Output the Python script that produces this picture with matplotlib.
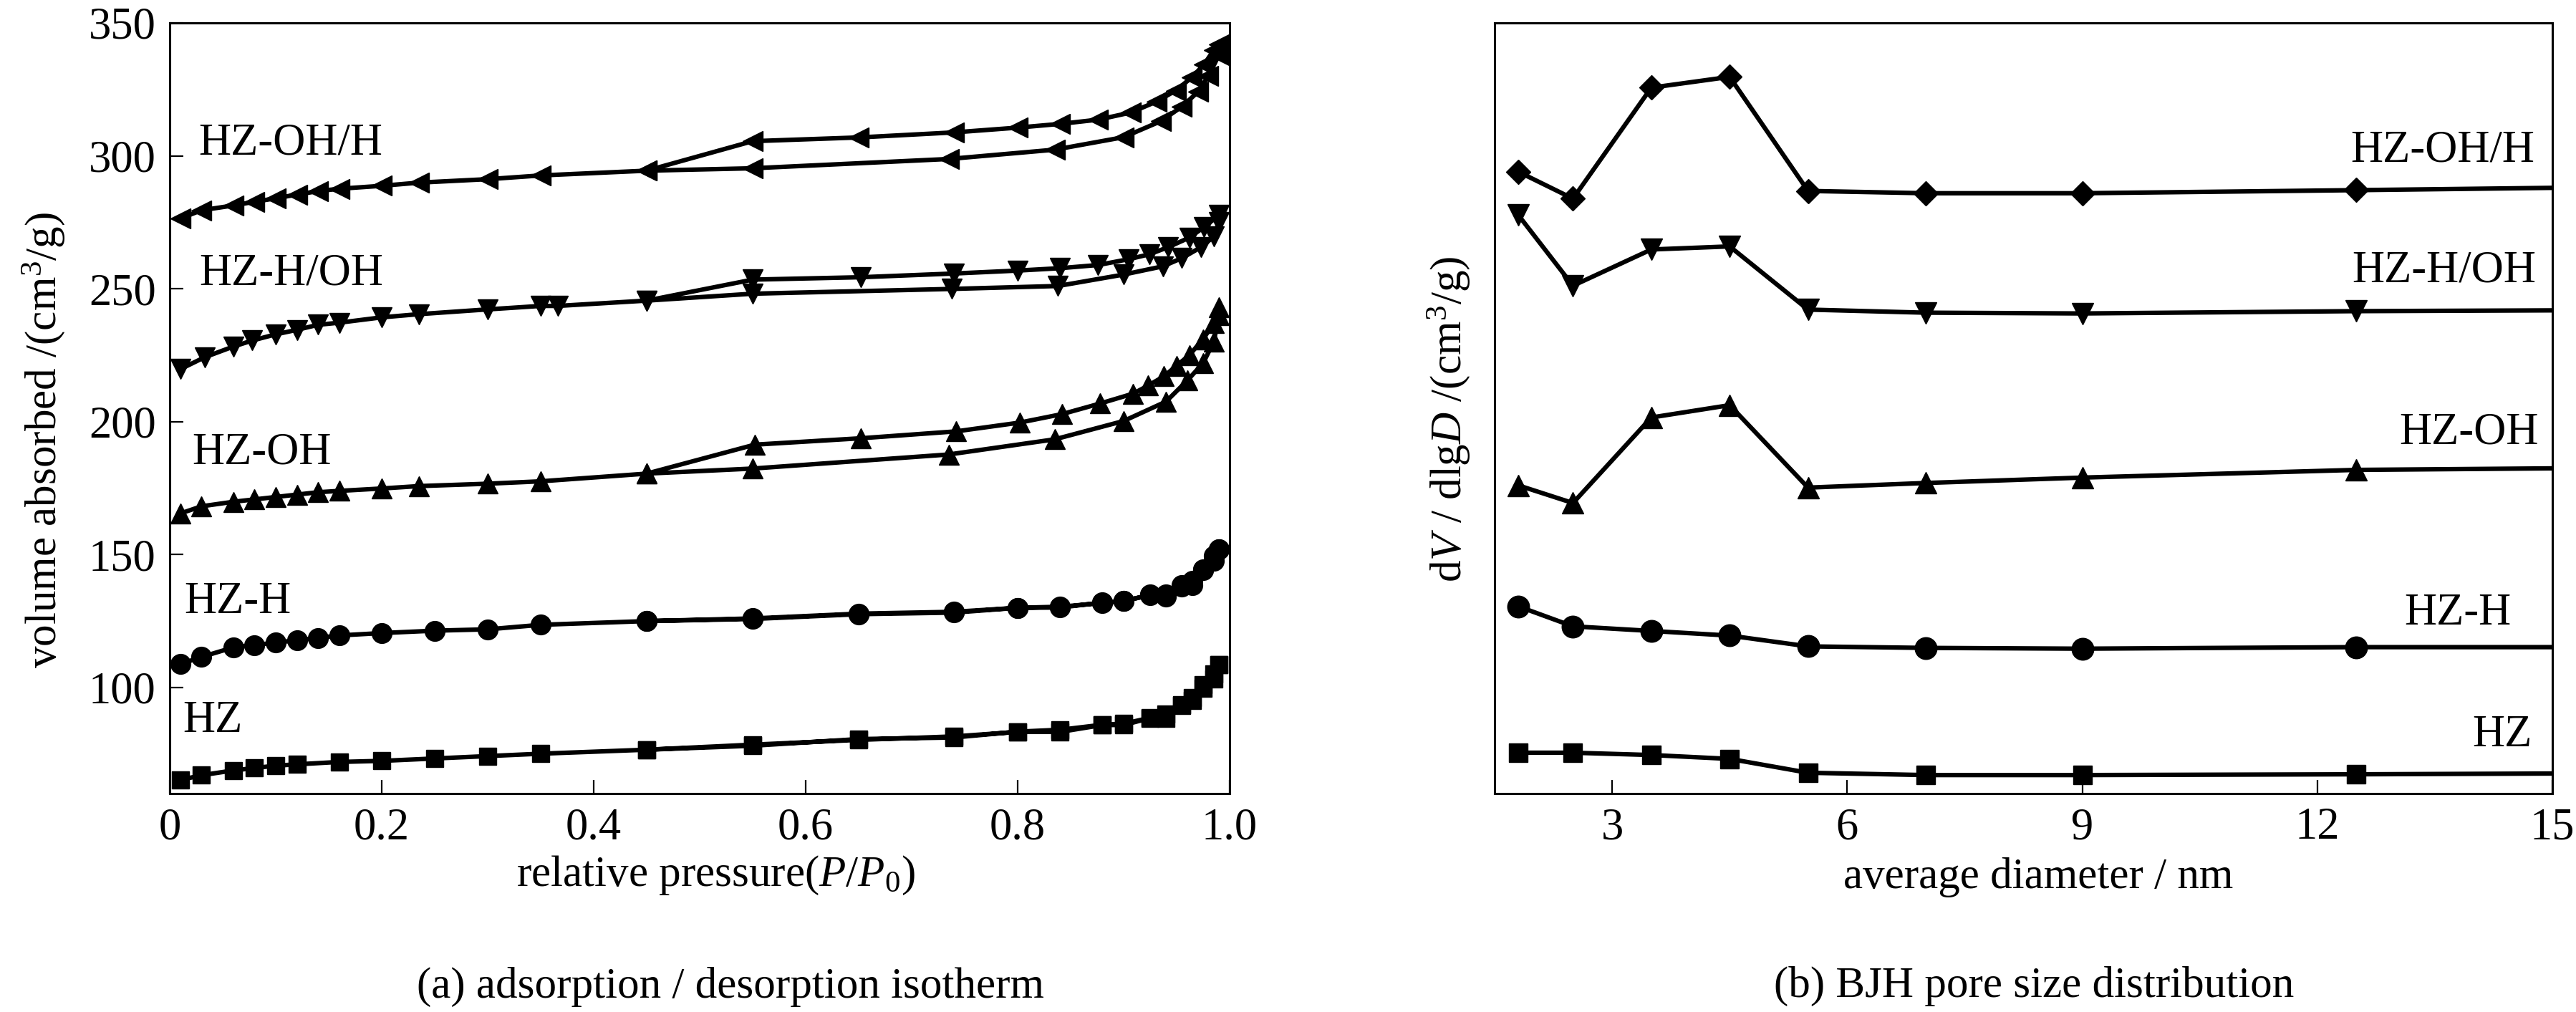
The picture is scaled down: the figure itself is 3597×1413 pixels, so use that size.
import matplotlib
matplotlib.use("Agg")
import matplotlib.pyplot as plt

plt.rcParams['font.family'] = ['Liberation Serif', 'DejaVu Serif']
plt.rcParams['mathtext.fontset'] = 'custom'
plt.rcParams['mathtext.rm'] = 'Liberation Serif'
plt.rcParams['mathtext.it'] = 'Liberation Serif:italic'

# ---- (a) adsorption / desorption isotherms ----
hz_ads_p = [0.01, 0.03, 0.06, 0.08, 0.10, 0.12, 0.16, 0.20, 0.25, 0.30, 0.35, 0.45, 0.55,
            0.65, 0.74, 0.80, 0.84, 0.88, 0.90, 0.925, 0.94, 0.955, 0.965, 0.975, 0.985, 0.99]
hz_ads_v = [65.1, 66.9, 68.7, 69.6, 70.5, 71.0, 71.9, 72.3, 73.2, 74.1, 75.0, 76.5, 78.0,
            80.5, 81.1, 83.3, 84.0, 85.9, 86.3, 88.5, 90.0, 93.5, 95.0, 99.5, 103.0, 108.5]
hz_des_p = [0.99, 0.985, 0.975, 0.965, 0.955, 0.94, 0.925, 0.90, 0.88, 0.84, 0.80, 0.74, 0.65, 0.55, 0.45]
hz_des_v = [108.5, 105.0, 101.0, 96.0, 93.1, 88.2, 88.4, 85.8, 85.8, 83.2, 83.2, 81.5, 80.2, 78.4, 76.5]

hzh_ads_p = [0.01, 0.03, 0.06, 0.08, 0.10, 0.12, 0.14, 0.16, 0.20, 0.25, 0.30, 0.35, 0.45, 0.55,
             0.65, 0.74, 0.80, 0.84, 0.88, 0.90, 0.925, 0.94, 0.955, 0.965, 0.975, 0.985, 0.99]
hzh_ads_v = [108.7, 111.4, 115.0, 115.9, 116.8, 117.7, 118.6, 119.5, 120.4, 121.3, 121.8, 123.5, 124.9, 125.7,
             127.5, 128.1, 129.9, 130.3, 131.7, 132.4, 134.8, 135.0, 137.8, 138.5, 144.0, 147.5, 152.0]
hzh_des_p = [0.99, 0.985, 0.975, 0.965, 0.955, 0.94, 0.925, 0.90, 0.88, 0.84, 0.80, 0.74, 0.65, 0.55, 0.45]
hzh_des_v = [152.0, 149.5, 144.3, 140.0, 138.3, 134.2, 134.6, 132.5, 131.9, 130.0, 129.9, 128.4, 127.7, 125.9, 124.9]

hzoh_ads_p = [0.01, 0.03, 0.06, 0.08, 0.10, 0.12, 0.14, 0.16, 0.20, 0.235, 0.30, 0.35, 0.45, 0.55,
              0.735, 0.835, 0.90, 0.94, 0.96, 0.975, 0.985, 0.99]
hzoh_ads_v = [165.4, 168.1, 169.8, 170.7, 171.6, 172.5, 173.4, 173.9, 174.8, 175.7, 176.6, 177.5, 180.4, 182.3,
              187.6, 193.3, 200.2, 207.5, 215.4, 222.0, 230.0, 240.0]
hzoh_des_p = [0.99, 0.985, 0.975, 0.962, 0.95, 0.938, 0.923, 0.909, 0.878, 0.842, 0.802, 0.742, 0.652, 0.552, 0.45]
hzoh_des_v = [243.0, 237.0, 231.0, 225.0, 221.0, 217.0, 213.5, 210.5, 206.8, 202.8, 199.6, 196.3, 193.7, 191.3, 180.4]

hzhoh_ads_p = [0.01, 0.033, 0.06, 0.078, 0.10, 0.12, 0.14, 0.16, 0.20, 0.235, 0.30, 0.35, 0.366, 0.45, 0.55,
               0.738, 0.838, 0.90, 0.937, 0.955, 0.973, 0.985, 0.99]
hzhoh_ads_v = [219.7, 224.2, 228.2, 230.5, 232.8, 234.5, 236.4, 237.2, 239.2, 240.4, 242.2, 243.5, 243.5, 245.5, 248.1,
               249.9, 251.0, 255.3, 258.4, 261.5, 265.6, 269.6, 275.0]
hzhoh_des_p = [0.99, 0.976, 0.962, 0.942, 0.924, 0.905, 0.876, 0.84, 0.80, 0.74, 0.652, 0.55, 0.45]
hzhoh_des_v = [277.7, 273.2, 269.2, 265.6, 262.9, 261.1, 258.9, 257.7, 256.8, 255.7, 254.3, 253.4, 245.5]

hzohh_ads_p = [0.01, 0.03, 0.06, 0.08, 0.10, 0.12, 0.14, 0.16, 0.20, 0.235, 0.30, 0.35, 0.45, 0.55,
               0.735, 0.835, 0.90, 0.935, 0.955, 0.97, 0.98, 0.99]
hzohh_ads_v = [276.4, 279.5, 281.3, 282.7, 284.0, 285.4, 286.7, 287.6, 288.7, 289.9, 291.2, 292.6, 294.4, 295.3,
               298.8, 302.3, 307.0, 313.0, 318.5, 324.0, 330.0, 338.0]
hzohh_des_p = [0.99, 0.985, 0.976, 0.964, 0.949, 0.931, 0.907, 0.876, 0.84, 0.80, 0.74, 0.65, 0.55, 0.45]
hzohh_des_v = [342.0, 339.8, 334.4, 329.4, 324.5, 320.4, 316.3, 313.6, 312.0, 310.6, 308.8, 306.9, 305.5, 294.4]

# ---- (b) BJH pore size distribution (arbitrary offset units) ----
diam = [1.8, 2.5, 3.5, 4.5, 5.5, 7.0, 9.0, 12.5, 15.0]
bjh_hzohh = [80.7, 77.2, 91.6, 93.0, 78.2, 77.9, 77.9, 78.3, 78.6]
bjh_hzhoh = [75.1, 65.9, 70.6, 71.0, 62.8, 62.4, 62.3, 62.6, 62.7]
bjh_hzoh = [40.0, 37.7, 48.8, 50.4, 39.7, 40.3, 41.0, 42.0, 42.2]
bjh_hzh = [24.3, 21.7, 21.1, 20.5, 19.1, 18.9, 18.8, 19.0, 19.0]
bjh_hz = [5.3, 5.3, 5.0, 4.5, 2.7, 2.4, 2.4, 2.5, 2.6]

fig = plt.figure(figsize=(35.98, 14.13), dpi=100)
W, H = 3598.0, 1413.0
ax1 = fig.add_axes([237 / W, (H - 1108) / H, 1480 / W, 1076 / H])
ax2 = fig.add_axes([2087 / W, (H - 1108) / H, 1477 / W, 1076 / H])

lw = 4.5
iso = [
    (hz_ads_p, hz_ads_v, hz_des_p, hz_des_v, 's', 17),
    (hzh_ads_p, hzh_ads_v, hzh_des_p, hzh_des_v, 'o', 20),
    (hzoh_ads_p, hzoh_ads_v, hzoh_des_p, hzoh_des_v, '^', 20),
    (hzhoh_ads_p, hzhoh_ads_v, hzhoh_des_p, hzhoh_des_v, 'v', 20),
    (hzohh_ads_p, hzohh_ads_v, hzohh_des_p, hzohh_des_v, '<', 20),
]
for ap, av, dp, dv, m, ms in iso:
    ax1.plot(ap + dp, av + dv, color='black', lw=lw, marker=m, ms=ms,
             mfc='black', mec='black', mew=1)

ax1.set_xlim(0, 1.0)
ax1.set_ylim(60, 350)
ax1.set_xticks([0, 0.2, 0.4, 0.6, 0.8, 1.0])
ax1.set_xticklabels(['0', '0.2', '0.4', '0.6', '0.8', '1.0'])
ax1.set_yticks([100, 150, 200, 250, 300, 350])

ax1.text(0.027, 300.6, 'HZ-OH/H', fontsize=45, va='baseline')
ax1.text(0.028, 251.5, 'HZ-H/OH', fontsize=45, va='baseline')
ax1.text(0.021, 184.1, 'HZ-OH', fontsize=45, va='baseline')
ax1.text(0.014, 127.8, 'HZ-H', fontsize=45, va='baseline')
ax1.text(0.012, 83.1, 'HZ', fontsize=45, va='baseline')

ax1.set_xlabel('relative pressure($P$/$P_0$)', fontsize=44, va='baseline')
ax1.xaxis.set_label_coords(0.515, -0.12)
ax1.set_ylabel('volume absorbed /(cm$^3$/g)', fontsize=44, va='center')
ax1.yaxis.set_label_coords(-0.119, 0.459)

bjh = [
    (bjh_hz, 's', 19),
    (bjh_hzh, 'o', 22),
    (bjh_hzoh, '^', 22),
    (bjh_hzhoh, 'v', 22),
    (bjh_hzohh, 'D', 17),
]
for vals, m, ms in bjh:
    ax2.plot(diam, vals, color='black', lw=lw, marker=m, ms=ms,
             mfc='black', mec='black', mew=1, markevery=list(range(len(diam) - 1)))

ax2.set_xlim(1.5, 15)
ax2.set_ylim(0, 100)
ax2.set_xticks([3, 6, 9, 12, 15])
ax2.set_yticks([])

ax2.text(14.77, 82.0, 'HZ-OH/H', fontsize=45, va='baseline', ha='right')
ax2.text(14.79, 66.4, 'HZ-H/OH', fontsize=45, va='baseline', ha='right')
ax2.text(14.82, 45.4, 'HZ-OH', fontsize=45, va='baseline', ha='right')
ax2.text(14.47, 21.9, 'HZ-H', fontsize=45, va='baseline', ha='right')
ax2.text(14.74, 6.1, 'HZ', fontsize=45, va='baseline', ha='right')

ax2.set_xlabel('average diameter / nm', fontsize=44, va='baseline')
ax2.xaxis.set_label_coords(0.514, -0.123)
ax2.set_ylabel('d$V$ / dlg$D$ /(cm$^3$/g)', fontsize=44, va='center')
ax2.yaxis.set_label_coords(-0.043, 0.486)

for ax in (ax1, ax2):
    for s in ax.spines.values():
        s.set_linewidth(2.2)
    ax.tick_params(direction='in', length=14, width=1.6, labelsize=45, pad=14,
                   top=False, right=False)

fig.text(1020 / W, 20 / H, '(a) adsorption / desorption isotherm', fontsize=44,
         ha='center', va='baseline')
fig.text(2840 / W, 21 / H, '(b) BJH pore size distribution', fontsize=44,
         ha='center', va='baseline')

fig.savefig('out.png', dpi=100)
